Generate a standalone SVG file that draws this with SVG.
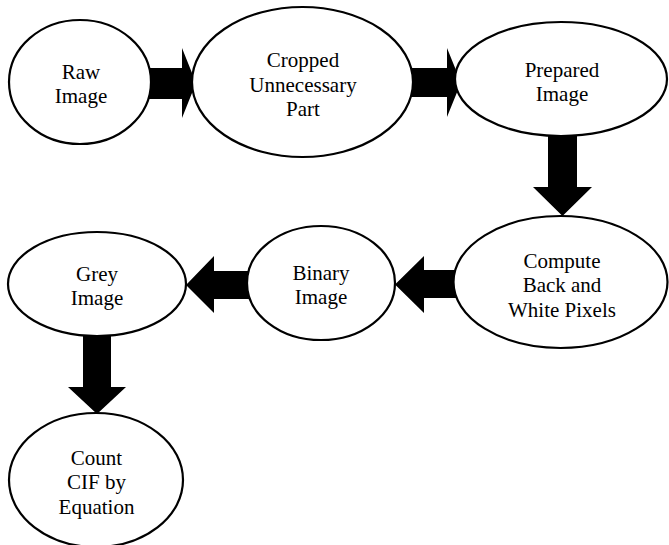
<svg xmlns="http://www.w3.org/2000/svg" width="669" height="545" viewBox="0 0 669 545">
<defs>
<style>
ellipse{fill:#fff;stroke:#000;stroke-width:2.2}
.arrow{fill:#000;stroke:none}
</style>
</defs>
<rect width="669" height="545" fill="#fff"/>
<g id="connectors">
<polygon class="arrow" points="148,68 182,68 182,48 196,83 182,118 182,99 148,99"/>
<polygon class="arrow" points="410,68 447,68 447,48 461,82.5 447,117 447,97 410,97"/>
<polygon class="arrow" points="548,132 577,132 577,187 592,187 562.5,216 533,187 548,187"/>
<polygon class="arrow" points="458,270 424,270 424,256 395,284.5 424,313 424,298 458,298"/>
<polygon class="arrow" points="251,271 214,271 214,256 186,285 214,313 214,299 251,299"/>
<polygon class="arrow" points="83,332 111,332 111,387 126,387 97,414 68,387 83,387"/>
</g>
<g font-family="Liberation Serif" font-size="21" text-anchor="middle" fill="#000">
<g id="raw"><ellipse cx="80" cy="82" rx="71" ry="62"/><text x="81" y="79" font-family="Liberation Serif">Raw</text><text x="81" y="103" font-family="Liberation Serif">Image</text></g>
<g id="cropped"><ellipse cx="302.5" cy="82" rx="110.5" ry="75"/><text x="303" y="67" font-family="Liberation Serif">Cropped</text><text x="303" y="92" font-family="Liberation Serif">Unnecessary</text><text x="303" y="116" font-family="Liberation Serif">Part</text></g>
<g id="prepared"><ellipse cx="561" cy="79" rx="106" ry="57"/><text x="562" y="77" font-family="Liberation Serif">Prepared</text><text x="562" y="101" font-family="Liberation Serif">Image</text></g>
<g id="compute"><ellipse cx="560.5" cy="282" rx="107" ry="66"/><text x="562" y="268" font-family="Liberation Serif">Compute</text><text x="562" y="292" font-family="Liberation Serif">Back and</text><text x="562" y="317" font-family="Liberation Serif">White Pixels</text></g>
<g id="binary"><ellipse cx="321" cy="283" rx="74" ry="57"/><text x="321" y="280" font-family="Liberation Serif">Binary</text><text x="321" y="304" font-family="Liberation Serif">Image</text></g>
<g id="grey"><ellipse cx="97" cy="284" rx="89" ry="52"/><text x="97" y="281" font-family="Liberation Serif">Grey</text><text x="97" y="305" font-family="Liberation Serif">Image</text></g>
<g id="count"><ellipse cx="96" cy="480" rx="87" ry="67"/><text x="96.5" y="465" font-family="Liberation Serif">Count</text><text x="96.5" y="489" font-family="Liberation Serif">CIF by</text><text x="96.5" y="514" font-family="Liberation Serif">Equation</text></g>
</g>
</svg>
